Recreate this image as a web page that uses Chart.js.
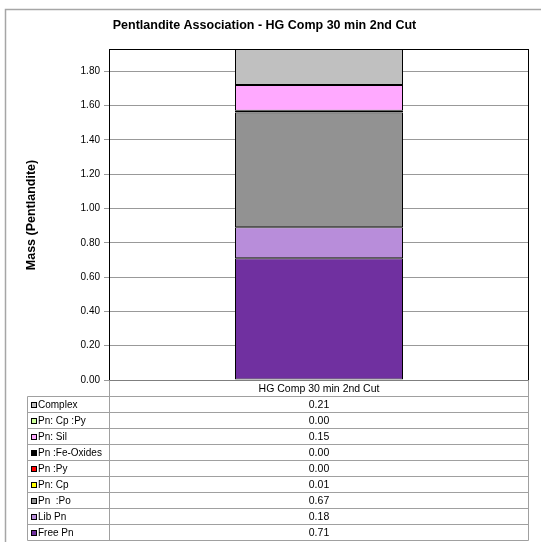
<!DOCTYPE html>
<html><head><meta charset="utf-8">
<script src="https://cdn.jsdelivr.net/npm/chart.js@4/dist/chart.umd.min.js"></script>
<style>html,body{margin:0;padding:0;background:#fff;}canvas{display:block}</style>
</head><body>
<canvas id="c" width="541" height="542"></canvas>
<script>
const categories = ['HG Comp 30 min 2nd Cut'];
const seriesNames = ['Free Pn', 'Lib Pn', 'Pn  :Po', 'Pn: Cp', 'Pn :Py', 'Pn :Fe-Oxides', 'Pn: Sil', 'Pn: Cp :Py', 'Complex'];
const freePn = [0.71];
const libPn = [0.18];
const pnPo = [0.67];
const pnCp = [0.01];
const pnPy = [0.00];
const pnFeOxides = [0.00];
const pnSil = [0.15];
const pnCpPy = [0.00];
const complex = [0.21];
const yTickValues = [0, 0.2, 0.4, 0.6, 0.8, 1.0, 1.2, 1.4, 1.6, 1.8];
const seriesColors = ['#7030A0', '#B88DDA', '#929292', '#FFFF00', '#FF0000', '#000000', '#FFA9FF', '#CCFF99', '#C0C0C0'];

const seriesValues = [freePn, libPn, pnPo, pnCp, pnPy, pnFeOxides, pnSil, pnCpPy, complex];
const yMax = Math.round(seriesValues.reduce((s, v) => s + v[0], 0) * 100) / 100;
const FONT = '"Liberation Sans", Arial, sans-serif';

const framePlugin = {
  id: 'frameAndTable',
  beforeDraw(chart) {
    const ctx = chart.ctx;
    ctx.save();
    ctx.strokeStyle = '#a6a6a6';
    ctx.lineWidth = 1.5;
    ctx.beginPath();
    ctx.moveTo(5.5, 542); ctx.lineTo(5.5, 9.5); ctx.lineTo(541, 9.5);
    ctx.stroke();
    ctx.restore();
  },
  afterDraw(chart) {
    const ctx = chart.ctx;
    const a = chart.chartArea;
    ctx.save();
    // plot frame
    ctx.strokeStyle = '#000';
    ctx.lineWidth = 1;
    ctx.strokeRect(Math.round(a.left) + 0.5, Math.round(a.top) + 0.5, Math.round(a.right - a.left) - 1, Math.round(a.bottom - a.top));
    ctx.strokeStyle = '#7f7f7f';
    ctx.beginPath();
    ctx.moveTo(a.left, Math.round(a.bottom) + 0.5); ctx.lineTo(a.right, Math.round(a.bottom) + 0.5);
    ctx.stroke();

    // data table
    const rowH = 16;
    const tLeft = 27.5;
    const colX = Math.round(a.left) + 0.5;
    const tRight = Math.round(a.right) - 0.5;
    const headTop = Math.round(a.bottom) + 0.5;
    const bodyTop = headTop + rowH;
    const n = chart.data.datasets.length;
    ctx.strokeStyle = '#a0a0a0';
    ctx.beginPath();
    ctx.moveTo(colX, headTop); ctx.lineTo(colX, bodyTop + n * rowH);
    ctx.moveTo(tRight, headTop); ctx.lineTo(tRight, bodyTop + n * rowH);
    ctx.moveTo(tLeft, bodyTop); ctx.lineTo(tLeft, bodyTop + n * rowH);
    for (let i = 0; i <= n; i++) {
      const y = bodyTop + i * rowH;
      ctx.moveTo(tLeft, y); ctx.lineTo(tRight, y);
    }
    ctx.stroke();

    ctx.textBaseline = 'middle';
    const xs = chart.scales.x;
    for (let r = 0; r < n; r++) {
      const di = n - 1 - r;
      const ds = chart.data.datasets[di];
      const cy = bodyTop + r * rowH + rowH / 2;
      ctx.fillStyle = ds.backgroundColor;
      ctx.fillRect(31, Math.round(cy) - 3, 6, 6);
      ctx.strokeStyle = '#000';
      ctx.strokeRect(31.5, Math.round(cy) - 2.5, 5, 5);
      ctx.fillStyle = '#000';
      ctx.textAlign = 'left';
      ctx.font = '10px ' + FONT;
      ctx.fillText(ds.label, 38, cy + 0.5);
      ctx.textAlign = 'center';
      ctx.font = '10.5px ' + FONT;
      for (let c = 0; c < ds.data.length; c++) {
        ctx.fillText(ds.data[c].toFixed(2), xs.getPixelForValue(c), cy + 0.5);
      }
    }

    // y axis title
    ctx.font = 'bold 12.5px ' + FONT;
    ctx.translate(32, 215);
    ctx.rotate(-Math.PI / 2);
    ctx.textAlign = 'center';
    ctx.fillText('Mass (Pentlandite)', 0, 0);
    ctx.restore();
  }
};

new Chart(document.getElementById('c'), {
  type: 'bar',
  data: {
    labels: categories,
    datasets: seriesNames.map((name, i) => ({
      label: name,
      data: seriesValues[i],
      backgroundColor: seriesColors[i],
      borderColor: '#000000',
      borderWidth: 1,
      borderSkipped: false,
      barPercentage: 0.4,
      categoryPercentage: 1.0
    }))
  },
  options: {
    responsive: false,
    animation: false,
    devicePixelRatio: 1,
    layout: { padding: { top: 0, left: 0, right: 12, bottom: 146 } },
    plugins: {
      legend: { display: false },
      tooltip: { enabled: false },
      title: {
        display: true,
        text: 'Pentlandite Association - HG Comp 30 min 2nd Cut',
        color: '#000',
        font: { family: FONT, size: 12.5, weight: 'bold', lineHeight: 1.2 },
        padding: { top: 18.5, bottom: 15.5 }
      }
    },
    scales: {
      x: {
        stacked: true,
        grid: { display: false, drawTicks: false },
        border: { display: false },
        ticks: { color: '#000', font: { family: FONT, size: 10.5 }, padding: 3, maxRotation: 0 },
        afterFit(s) { s.height = 16; }
      },
      y: {
        stacked: true,
        min: 0,
        max: yMax,
        afterBuildTicks(s) { s.ticks = yTickValues.map(v => ({ value: v })); },
        grid: { color: '#999999', tickLength: 5, drawOnChartArea: true },
        border: { display: true, color: '#000' },
        ticks: {
          color: '#000',
          font: { family: FONT, size: 10 },
          padding: 4,
          callback: v => Number(v).toFixed(2)
        },
        afterFit(s) { s.width = 109; }
      }
    }
  },
  plugins: [framePlugin]
});
</script>
</body></html>
